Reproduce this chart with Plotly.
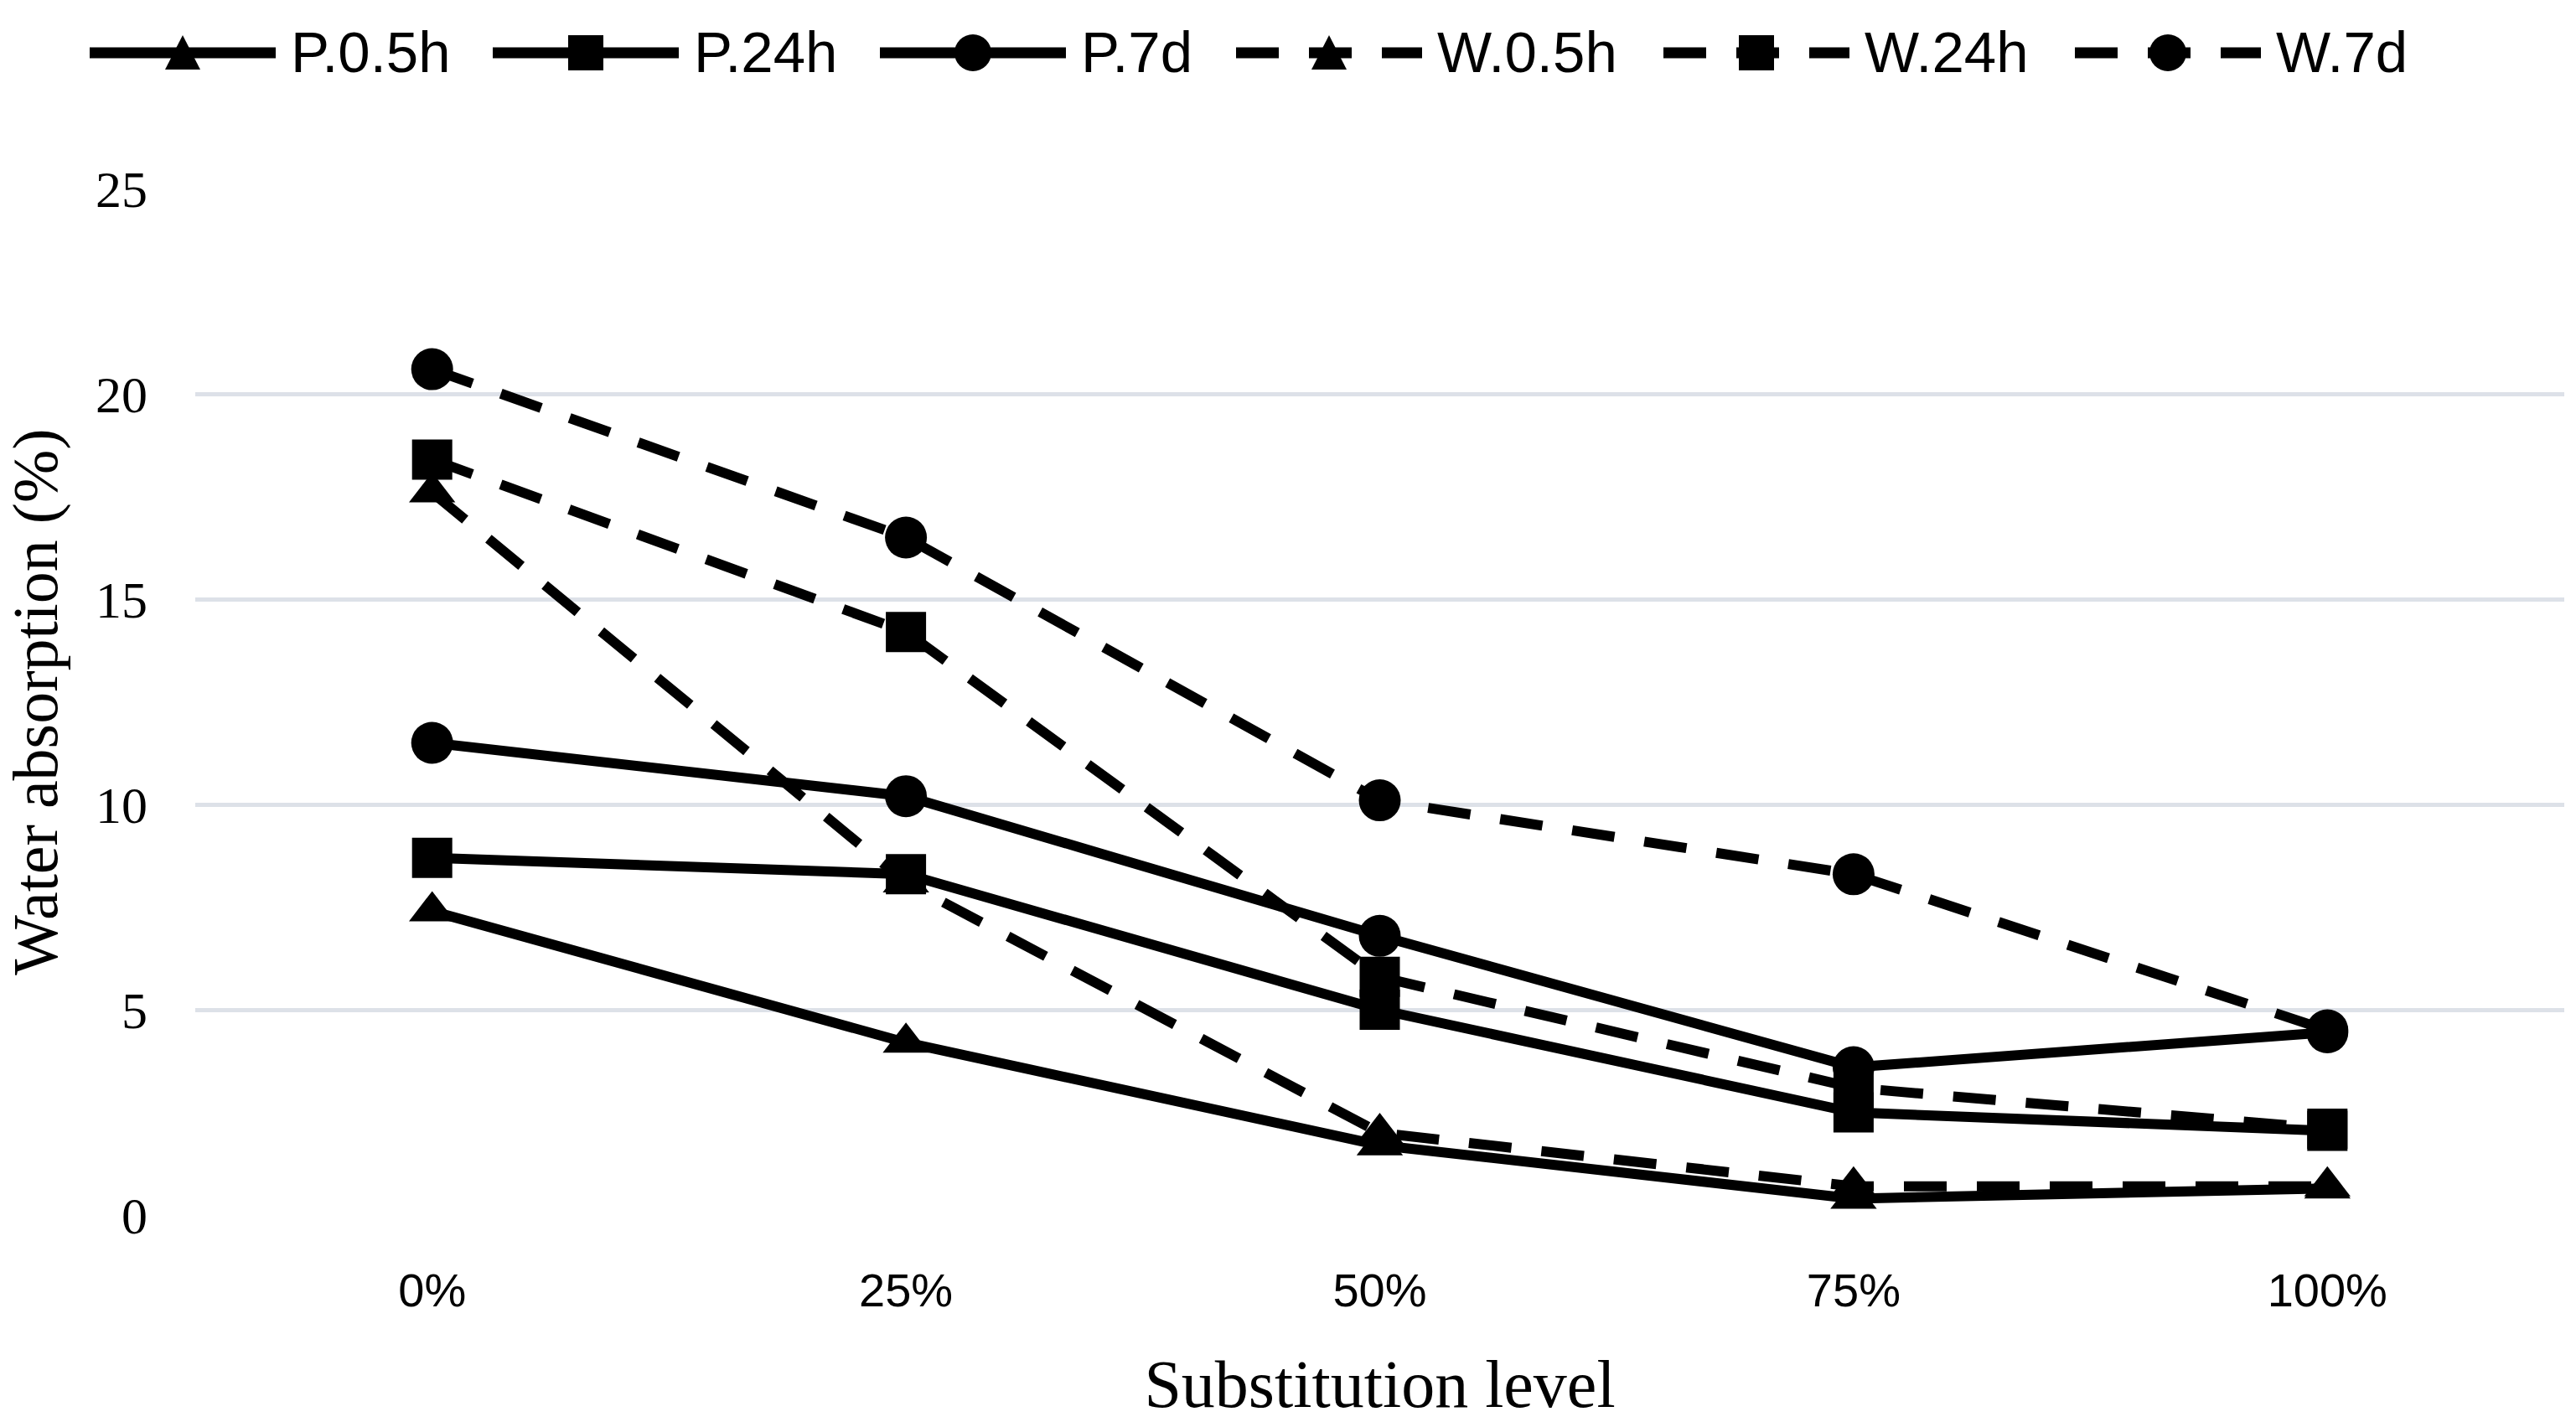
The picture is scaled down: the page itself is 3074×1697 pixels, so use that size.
import plotly.graph_objects as go

categories = ["0%", "25%", "50%", "75%", "100%"]

p_05h = [7.4, 4.2, 1.7, 0.4, 0.65]
p_24h = [8.7, 8.3, 5.0, 2.5, 2.05]
p_7d = [11.5, 10.2, 6.8, 3.6, 4.45]
w_05h = [17.6, 8.1, 2.0, 0.7, 0.7]
w_24h = [18.4, 14.2, 5.8, 3.1, 2.1]
w_7d = [20.6, 16.5, 10.1, 8.3, 4.5]

y_ticks = [0, 5, 10, 15, 20, 25]

DASH = "51px,36px"
series = [
    ("P.0.5h", p_05h, "solid", "triangle-up", 48),
    ("P.24h", p_24h, "solid", "square", 48),
    ("P.7d", p_7d, "solid", "circle", 50),
    ("W.0.5h", w_05h, DASH, "triangle-up", 48),
    ("W.24h", w_24h, DASH, "square", 48),
    ("W.7d", w_7d, DASH, "circle", 50),
]

W, H = 3074, 1697
ML, MR, MT, MB = 233, 14, 225, 247
PW, PH = W - ML - MR, H - MT - MB


def px_x(px):
    return (px - ML) / PW


def px_y(py):
    return (H - MB - py) / PH


fig = go.Figure()
for name, vals, dash, sym, size in series:
    fig.add_trace(go.Scatter(
        x=categories, y=vals, name=name, mode="lines+markers",
        line=dict(color="black", width=12, dash=dash),
        marker=dict(symbol=sym, size=size, color="black", line=dict(width=0)),
        showlegend=False,
    ))

# custom legend (plotly caps legend marker size)
legend_centers = [218, 699, 1161, 1586, 2096, 2587]
legend_y = 63
shapes = []
annotations = []
for (name, vals, dash, sym, size), cx in zip(series, legend_centers):
    ay = px_y(legend_y)
    shapes.append(dict(
        type="line", xref="paper", yref="paper",
        x0=px_x(cx - 111), x1=px_x(cx + 111), y0=ay, y1=ay,
        line=dict(color="black", width=13, dash=dash),
    ))
    common = dict(xref="paper", yref="paper", xsizemode="pixel", ysizemode="pixel",
                  xanchor=px_x(cx), yanchor=ay, fillcolor="black", line=dict(width=0))
    if sym == "circle":
        shapes.append(dict(type="circle", x0=-22, x1=22, y0=-22, y1=22, **common))
    elif sym == "square":
        shapes.append(dict(type="rect", x0=-21, x1=21, y0=-21, y1=21, **common))
    else:
        shapes.append(dict(type="path", path="M-21,-20 L21,-20 L0,21 Z", **common))
    annotations.append(dict(
        text=name, xref="paper", yref="paper", x=px_x(cx + 127), y=ay,
        xanchor="left", yanchor="middle", showarrow=False,
        font=dict(family="Liberation Sans Narrow, Arial Narrow, sans-serif", size=69, color="black"),
    ))

fig.update_layout(
    width=W, height=H, autosize=False,
    margin=dict(l=ML, r=MR, t=MT, b=MB),
    paper_bgcolor="white", plot_bgcolor="white",
    showlegend=False,
    shapes=shapes, annotations=annotations,
)

fig.update_xaxes(
    type="category", range=[-0.5, 4.5],
    showgrid=False, zeroline=False, showline=False, ticks="",
    tickfont=dict(family="Liberation Sans Narrow, Arial Narrow, sans-serif", size=56, color="black"),
    ticklabelstandoff=52,
    title=dict(text="Substitution level", standoff=52,
               font=dict(family="Liberation Serif, Times New Roman, serif", size=80, color="black")),
)
fig.update_yaxes(
    range=[0, 25], tickvals=y_ticks, ticktext=[str(v) for v in y_ticks],
    showgrid=True, gridcolor="#DDE1E8", gridwidth=5,
    zeroline=False, showline=False, ticks="",
    tickfont=dict(family="Liberation Serif, Times New Roman, serif", size=62, color="black"),
    ticklabelstandoff=56,
    title=dict(text="Water absorption (%)", standoff=34,
               font=dict(family="Liberation Serif, Times New Roman, serif", size=76, color="black")),
)

fig.write_html("out.html", config={"displayModeBar": False},
               post_script="document.body.style.margin='0';")
